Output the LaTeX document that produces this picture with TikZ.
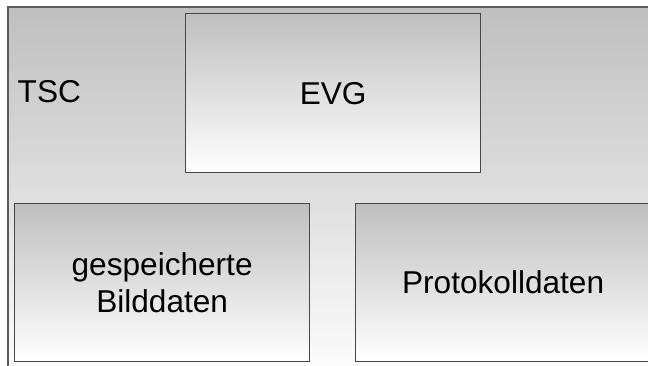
\documentclass[tikz,border=0pt]{standalone}
\usepackage{fontspec}
\setmainfont{Liberation Sans}
\tikzset{
  frame/.style={draw=black!65, line width=1.6pt, top color=black!25, bottom color=white, anchor=north west, inner sep=0pt},
  box/.style={draw=black!72, line width=1.3pt, top color=black!25, bottom color=white, anchor=north west, inner sep=0pt, align=center, font=\fontsize{31.6}{37.5}\selectfont},
  lbl/.style={inner sep=0pt, font=\fontsize{31.6}{37.5}\selectfont}
}
\begin{document}
\begin{tikzpicture}[x=1pt,y=1pt]
\useasboundingbox (0,0) rectangle (648,365);
\clip (0,0) rectangle (648,365);
\node[frame, minimum width=660pt, minimum height=380pt] (outer) at (7,359) {};
\node[lbl, anchor=base west] (tsc) at (17.5,262) {TSC};
\node[box, minimum width=295pt, minimum height=159pt] (evg) at (185,352) {EVG};
\node[box, minimum width=295pt, minimum height=158pt] (bild) at (14,162) {gespeicherte\\Bilddaten};
\node[box, minimum width=295pt, minimum height=158pt] (proto) at (355,162) {Protokolldaten};
\end{tikzpicture}
\end{document}
